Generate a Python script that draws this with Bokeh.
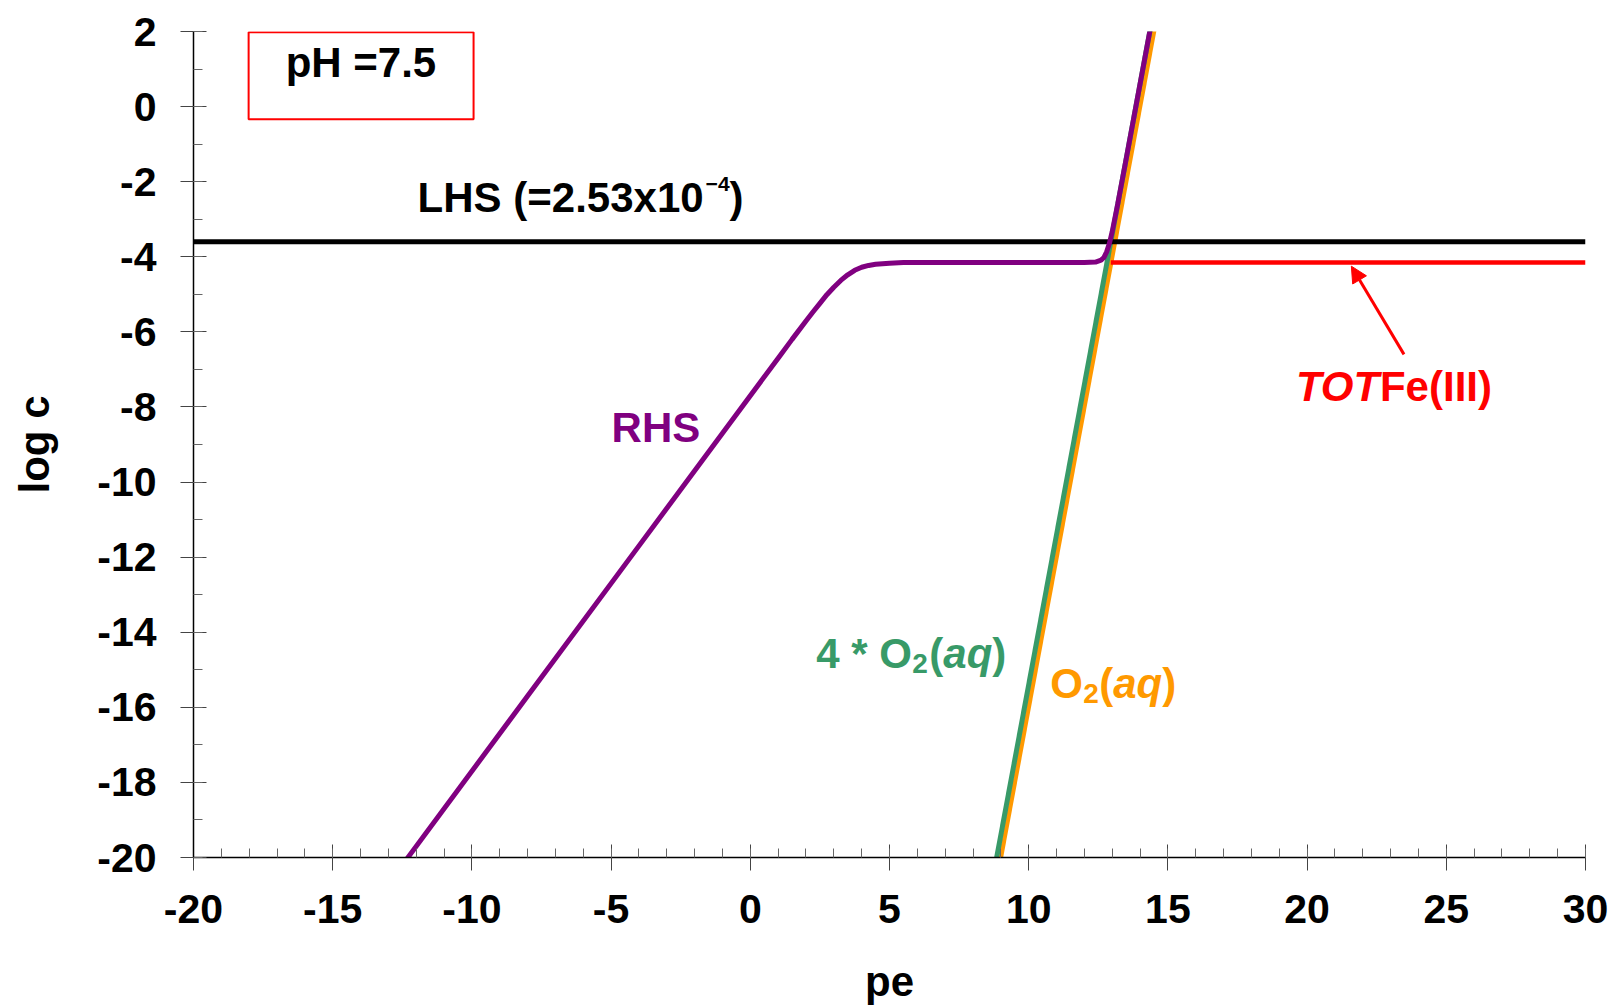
from bokeh.plotting import figure
from bokeh.models import Range1d, FixedTicker, Label, BoxAnnotation, Arrow, NormalHead
from bokeh.embed import file_html
from bokeh.resources import INLINE

# ---- data ----
x_ticks = [-20, -15, -10, -5, 0, 5, 10, 15, 20, 25, 30]
x_tick_labels = ["-20", "-15", "-10", "-5", "0", "5", "10", "15", "20", "25", "30"]
x_minor = list(range(-20, 31))
y_ticks = [-20, -18, -16, -14, -12, -10, -8, -6, -4, -2, 0, 2]
y_tick_labels = ["-20", "-18", "-16", "-14", "-12", "-10", "-8", "-6", "-4", "-2", "0", "2"]
y_minor = list(range(-20, 3))

lhs_pe = [-20, 30]
lhs_logc = [-3.597, -3.597]

totfe_pe = [12.95, 30]
totfe_logc = [-4.15, -4.15]

o2_pe = [9.0, 14.55]
o2_logc = [-20.0, 2.2]

o2x4_pe = [8.85, 14.4]
o2x4_logc = [-20.0, 2.2]

rhs_pe = [-12.35, -8, -4, -1, 1, 1.5, 2, 2.25, 2.5, 2.75, 3, 3.25, 3.5, 3.75, 4,
          4.25, 4.5, 5, 5.5, 6, 8, 10, 12,
          12.4, 12.6, 12.7, 12.8, 12.9, 13.0, 13.2, 13.5, 14.0, 14.4]
rhs_logc = [-20.05, -15.7, -11.7, -8.7, -6.7, -6.20, -5.71, -5.47, -5.24, -5.01,
            -4.81, -4.63, -4.48, -4.36, -4.28,
            -4.23, -4.20, -4.17, -4.155, -4.152, -4.15, -4.15, -4.15,
            -4.14, -4.09, -4.02, -3.87, -3.64, -3.33, -2.59, -1.40, 0.6, 2.2]

FONT = "Liberation Sans"
PURPLE = "#800080"
GREEN = "#389A68"
ORANGE = "#FF9900"
RED = "#FF0000"

p = figure(width=1616, height=1007, output_backend="svg", toolbar_location=None,
           x_range=Range1d(-20, 30), y_range=Range1d(-20, 2),
           min_border_left=193, min_border_right=31, min_border_top=31,
           min_border_bottom=149)
p.grid.visible = False
p.outline_line_color = None
p.background_fill_color = "white"
p.border_fill_color = "white"

for ax, ticks, labels, minor in ((p.xaxis, x_ticks, x_tick_labels, x_minor),
                                 (p.yaxis, y_ticks, y_tick_labels, y_minor)):
    ax.ticker = FixedTicker(ticks=ticks, minor_ticks=minor)
    ax.major_label_overrides = {t: s for t, s in zip(ticks, labels)}
    ax.axis_line_color = "black"
    ax.axis_line_width = 1.5
    ax.major_tick_in = 13
    ax.major_tick_out = 13
    ax.minor_tick_in = 9
    ax.minor_tick_out = 0
    ax.major_tick_line_color = "#444444"
    ax.minor_tick_line_color = "#666666"
    ax.major_label_text_font = FONT
    ax.major_label_text_font_style = "bold"
    ax.major_label_text_font_size = "41px"
    ax.major_label_text_color = "black"
    ax.axis_label_text_font = FONT
    ax.axis_label_text_font_style = "bold"
    ax.axis_label_text_font_size = "42px"
    ax.axis_label_text_color = "black"

p.xaxis.axis_label = "pe"
p.yaxis.axis_label = "log c"
p.xaxis.major_label_standoff = 24
p.yaxis.major_label_standoff = 24
p.xaxis.axis_label_standoff = 32
p.yaxis.axis_label_standoff = 36

p.line(o2_pe, o2_logc, line_color=ORANGE, line_width=4.5)
p.line(o2x4_pe, o2x4_logc, line_color=GREEN, line_width=5)
p.line(totfe_pe, totfe_logc, line_color=RED, line_width=4.5)
p.line(lhs_pe, lhs_logc, line_color="black", line_width=5)
p.line(rhs_pe, rhs_logc, line_color=PURPLE, line_width=5)

p.add_layout(BoxAnnotation(left=-18.02, right=-9.94, bottom=-0.34, top=1.98,
                           fill_alpha=0, fill_color=None, line_color=RED,
                           line_alpha=1.0, line_width=2))

LIFT = 15


def add_text(x, y, pieces, color):
    for text, style, size, dx, dy in pieces:
        p.add_layout(Label(x=x, y=y, text=text, x_offset=dx, y_offset=dy + LIFT,
                           text_font=FONT, text_font_style=style,
                           text_font_size=f"{size}px", text_color=color,
                           text_baseline="alphabetic", text_align="left"))


add_text(-13.96, 0.775, [("pH =7.5", "bold", 42, -76, 0)], "black")
add_text(-11.95, -2.81, [("LHS (=2.53x10", "bold", 42, 0, 0),
                         ("\u22124", "bold", 21, 288, 13),
                         (")", "bold", 42, 312, 0)], "black")
add_text(-4.91, -8.95, [("RHS", "bold", 42, -2, 0)], PURPLE)
add_text(2.37, -14.96, [("4 * O", "bold", 42, 0, 0),
                        ("2", "bold", 28, 96, -10),
                        ("(", "bold", 42, 113, 0),
                        ("aq", "bold italic", 42, 127, 0),
                        (")", "bold", 42, 176, 0)], GREEN)
add_text(10.77, -15.76, [("O", "bold", 42, 0, 0),
                         ("2", "bold", 28, 33, -10),
                         ("(", "bold", 42, 49, 0),
                         ("aq", "bold italic", 42, 63, 0),
                         (")", "bold", 42, 112, 0)], ORANGE)
add_text(19.6, -7.86, [("TOT", "bold italic", 42, 0, 0),
                       ("Fe(III)", "bold", 42, 84, 0)], RED)

p.add_layout(Arrow(end=NormalHead(size=16, fill_color=RED, line_color=RED, line_width=1),
                   x_start=23.48, y_start=-6.6, x_end=21.59, y_end=-4.25,
                   line_color=RED, line_width=3))

open("out.html", "w").write(file_html(p, INLINE))
